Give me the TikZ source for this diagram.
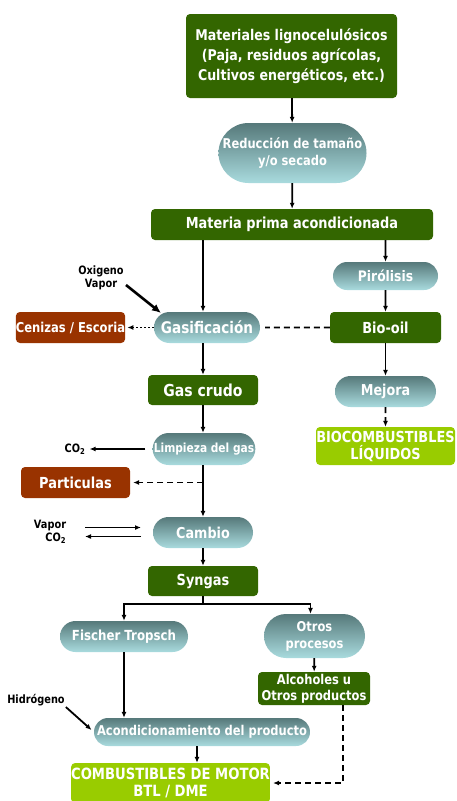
\documentclass[tikz,border=0pt]{standalone}
\usepackage{fontspec}
\setmainfont{DejaVu Sans}[FakeStretch=0.85]
\usetikzlibrary{shapes.misc,arrows.meta}

\definecolor{darkgreen}{HTML}{336600}
\definecolor{brownred}{HTML}{993300}
\definecolor{limegreen}{HTML}{99CC00}
\definecolor{pilltop}{HTML}{56797A}
\definecolor{pillbot}{HTML}{A9DBDE}

\begin{document}
\begin{tikzpicture}[x=1pt,y=-1pt,
  box/.style={rounded corners=4pt,text=white,align=center,inner sep=0pt,
              font=\bfseries\fontsize{15.2}{17}\selectfont},
  greenbox/.style={box,fill=darkgreen},
  brownbox/.style={box,fill=brownred},
  limebox/.style={box,fill=limegreen},
  pill/.style={rounded rectangle,top color=pilltop,bottom color=pillbot,
               text=white,align=center,inner sep=0pt,
               font=\bfseries\fontsize{13.5}{17}\selectfont},
  note/.style={font=\bfseries\fontsize{11.5}{13}\selectfont,align=right,inner sep=1pt},
  arr/.style={line width=1.8pt,-{Latex[length=6pt,width=5pt]}},
  dashline/.style={dash pattern=on 6pt off 4pt},
]
\useasboundingbox (0,0) rectangle (456,801);

% Raw material and preparation
\node[greenbox,minimum width=211pt,minimum height=84pt,
      font=\bfseries\fontsize{14.8}{20}\selectfont] (mat) at (291.5,56)
  {Materiales lignocelulósicos\\(Paja, residuos agrícolas,\\Cultivos energéticos, etc.)};
\node[pill,minimum width=143pt,minimum height=60pt] (red) at (292.5,153)
  {Reducción de tamaño\\y/o secado};
\node[greenbox,minimum width=282pt,minimum height=31pt] (prima) at (292,224.5)
  {Materia prima acondicionada};

% Pyrolysis branch
\node[pill,minimum width=105pt,minimum height=28pt,
      font=\bfseries\fontsize{14.5}{17}\selectfont] (piro) at (385.5,276) {Pirólisis};
\node[greenbox,minimum width=111pt,minimum height=31pt] (bio) at (385.5,327.5) {Bio-oil};
\node[pill,minimum width=101pt,minimum height=31pt,
      font=\bfseries\fontsize{15}{17}\selectfont] (mejora) at (385.5,391.5) {Mejora};
\node[limebox,minimum width=139pt,minimum height=38pt] (bioliq) at (385.5,446)
  {BIOCOMBUSTIBLES\\LÍQUIDOS};

% Gasification branch
\node[pill,minimum width=106pt,minimum height=31pt,
      font=\bfseries\fontsize{16}{17}\selectfont] (gasif) at (207,327.5) {Gasificación};
\node[brownbox,minimum width=109pt,minimum height=31pt,
      font=\bfseries\fontsize{13.6}{15}\selectfont] (ceniza) at (70.5,327.5) {Cenizas / Escoria};
\node[note,align=center] (oxi) at (101,278) {Oxigeno\\Vapor};
\node[greenbox,minimum width=110pt,minimum height=30pt,
      font=\bfseries\fontsize{16.5}{19}\selectfont] (crudo) at (203,390) {Gas crudo};
\node[pill,minimum width=102pt,minimum height=32pt,
      font=\bfseries\fontsize{12.5}{15}\selectfont] (limp) at (204,449) {Limpieza del gas};
\node[note] (co2) at (75,449) {CO\textsubscript{2}};
\node[brownbox,minimum width=109pt,minimum height=31pt] (part) at (75.5,482.5) {Particulas};
\node[pill,minimum width=100pt,minimum height=31pt,
      font=\bfseries\fontsize{15}{17}\selectfont] (cambio) at (203,532.5) {Cambio};
\node[note] (vapor) at (50,532) {Vapor\\CO\textsubscript{2}};
\node[greenbox,minimum width=110pt,minimum height=30pt] (syngas) at (203,581) {Syngas};

% Synthesis
\node[pill,minimum width=128pt,minimum height=31pt,
      font=\bfseries\fontsize{13.9}{17}\selectfont] (fischer) at (124,636.5) {Fischer Tropsch};
\node[pill,minimum width=101pt,minimum height=44pt] (otros) at (314.5,636) {Otros\\procesos};
\node[greenbox,minimum width=112pt,minimum height=33pt,
      font=\bfseries\fontsize{13.5}{16}\selectfont] (alc) at (314,688.5) {Alcoholes u\\Otros productos};
\node[note] (hidro) at (36,700) {Hidrógeno};
\node[pill,minimum width=216pt,minimum height=28pt] (acond) at (202,732)
  {Acondicionamiento del producto};
\node[limebox,minimum width=195pt,minimum height=40pt,
      font=\bfseries\fontsize{15.5}{17}\selectfont] (motor) at (170.5,783)
  {COMBUSTIBLES DE MOTOR\\BTL / DME};

% Helper points
\coordinate (oxiin) at (126,285);
\coordinate (oxiout) at (161,313);
\coordinate (vapL) at (85,527.5);
\coordinate (vapR) at (141,527.5);
\coordinate (co2L) at (85,536.5);
\coordinate (co2R) at (141,536.5);
\coordinate (split) at (203,604);

% Connectors
\draw[arr] (mat) -- (red);
\draw[arr] (red) -- (prima);
\draw[arr] (prima.south -| crudo) -- (gasif.north -| crudo);
\draw[arr] (prima.south -| piro) -- (piro);
\draw[arr] (piro) -- (bio);
\draw[arr] (bio) -- (mejora);
\draw[arr,dashline] (mejora) -- (bioliq);
\draw[line width=1.8pt,dashline,shorten >=5pt] (bio) -- (gasif);
\draw[arr,dash pattern=on 2pt off 2pt,shorten >=2pt] (gasif) -- (ceniza);
\draw[line width=2.6pt,-{Latex[length=9pt,width=8pt]}] (oxiin) -- (oxiout);
\draw[arr] (gasif.south -| crudo) -- (crudo);
\draw[arr] (crudo) -- (limp.north -| crudo);
\draw[arr,shorten <=7pt,shorten >=3pt] (limp) -- (co2);
\draw[arr] (limp.south -| crudo) -- (cambio.north -| crudo);
\draw[arr,dashline,shorten >=3pt] (part -| crudo) -- (part);
\draw[arr] (vapL) -- (vapR);
\draw[arr] (co2R) -- (co2L);
\draw[arr] (cambio) -- (syngas);
\draw[line width=1.8pt] (syngas) -- (split);
\draw[arr] (split) -| (fischer);
\draw[arr] (split) -| ([xshift=-4pt]otros.north);
\draw[arr] (otros) -- (alc);
\draw[arr] (fischer) -- (fischer |- acond.north);
\draw[arr,shorten >=3pt] (hidro.south east) -- (acond.west);
\draw[arr] ([xshift=-5pt]acond.south) -- ([xshift=-5pt]acond.south |- motor.north);
\draw[arr,dashline,shorten >=3pt] ([xshift=29pt]alc.south) |- (motor.east);

\end{tikzpicture}
\end{document}
